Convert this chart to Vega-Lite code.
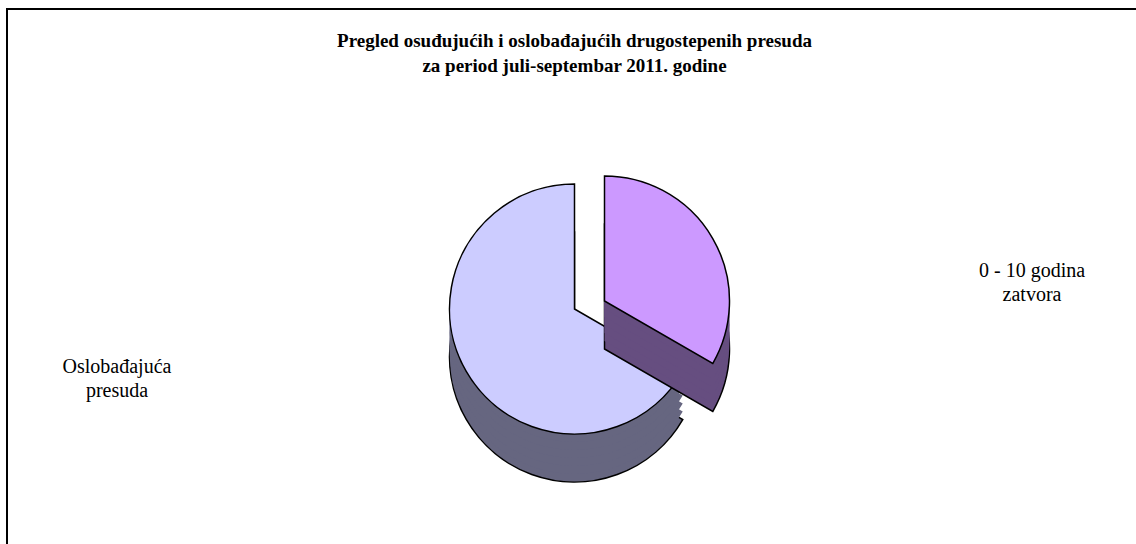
{
  "$schema": "https://vega.github.io/schema/vega-lite/v6.json",
  "width": 1135,
  "height": 600,
  "autosize": "none",
  "padding": {"left": 7, "top": 9, "right": 0, "bottom": 0},
  "background": "white",
  "view": {"stroke": "black", "strokeWidth": 2, "fill": "white"},
  "title": {
    "text": ["Pregled osuđujućih i oslobađajućih drugostepenih presuda", "za period juli-septembar 2011. godine"],
    "font": "Liberation Serif",
    "fontSize": 19,
    "fontWeight": "bold",
    "color": "black",
    "lineHeight": 25,
    "anchor": "middle",
    "offset": -67
  },
  "datasets": {
    "presude": [
      {"kategorija": "0 - 10 godina\nzatvora", "broj": 1},
      {"kategorija": "Oslobađajuća\npresuda", "broj": 2}
    ]
  },
  "data": {"name": "presude"},
  "transform": [
    {"stack": "broj", "groupby": [], "offset": "normalize", "sort": [{"field": "kategorija"}], "as": ["t0", "t1"]}
  ],
  "resolve": {"scale": {"theta": "independent"}},
  "layer": [
    {
      "transform": [{"filter": "indexof(datum.kategorija, 'Oslobađajuća') == 0"}],
      "mark": {"type": "arc", "radius": 125, "color": "#666680", "yOffset": 48, "stroke": "black", "strokeWidth": 1.5},
      "encoding": {"theta": {"field": "t0", "type": "quantitative", "scale": {"domain": [0, 1]}}, "theta2": {"field": "t1"}}
    },
    {
      "transform": [{"filter": "indexof(datum.kategorija, 'Oslobađajuća') == 0"}],
      "mark": {"type": "arc", "radius": 125, "color": "#666680", "yOffset": 40},
      "encoding": {"theta": {"field": "t0", "type": "quantitative", "scale": {"domain": [0, 1]}}, "theta2": {"field": "t1"}}
    },
    {
      "transform": [{"filter": "indexof(datum.kategorija, 'Oslobađajuća') == 0"}],
      "mark": {"type": "arc", "radius": 125, "color": "#666680", "yOffset": 32},
      "encoding": {"theta": {"field": "t0", "type": "quantitative", "scale": {"domain": [0, 1]}}, "theta2": {"field": "t1"}}
    },
    {
      "transform": [{"filter": "indexof(datum.kategorija, 'Oslobađajuća') == 0"}],
      "mark": {"type": "arc", "radius": 125, "color": "#666680", "yOffset": 24},
      "encoding": {"theta": {"field": "t0", "type": "quantitative", "scale": {"domain": [0, 1]}}, "theta2": {"field": "t1"}}
    },
    {
      "transform": [{"filter": "indexof(datum.kategorija, 'Oslobađajuća') == 0"}],
      "mark": {"type": "arc", "radius": 125, "color": "#666680", "yOffset": 16},
      "encoding": {"theta": {"field": "t0", "type": "quantitative", "scale": {"domain": [0, 1]}}, "theta2": {"field": "t1"}}
    },
    {
      "transform": [{"filter": "indexof(datum.kategorija, 'Oslobađajuća') == 0"}],
      "mark": {"type": "arc", "radius": 125, "color": "#666680", "yOffset": 8},
      "encoding": {"theta": {"field": "t0", "type": "quantitative", "scale": {"domain": [0, 1]}}, "theta2": {"field": "t1"}}
    },
    {
      "transform": [{"filter": "indexof(datum.kategorija, 'Oslobađajuća') == 0"}],
      "mark": {"type": "arc", "radius": 125, "color": "#CCCCFF", "stroke": "black", "strokeWidth": 1.5},
      "encoding": {"theta": {"field": "t0", "type": "quantitative", "scale": {"domain": [0, 1]}}, "theta2": {"field": "t1"}}
    },
    {
      "transform": [{"filter": "indexof(datum.kategorija, '0 - 10') == 0"}],
      "mark": {"type": "arc", "radius": 125, "color": "#664E80", "xOffset": 30, "yOffset": 40, "stroke": "black", "strokeWidth": 1.5},
      "encoding": {"theta": {"field": "t0", "type": "quantitative", "scale": {"domain": [0, 1]}}, "theta2": {"field": "t1"}}
    },
    {
      "transform": [{"filter": "indexof(datum.kategorija, '0 - 10') == 0"}],
      "mark": {"type": "arc", "radius": 125, "color": "#664E80", "xOffset": 30, "yOffset": 32},
      "encoding": {"theta": {"field": "t0", "type": "quantitative", "scale": {"domain": [0, 1]}}, "theta2": {"field": "t1"}}
    },
    {
      "transform": [{"filter": "indexof(datum.kategorija, '0 - 10') == 0"}],
      "mark": {"type": "arc", "radius": 125, "color": "#664E80", "xOffset": 30, "yOffset": 24},
      "encoding": {"theta": {"field": "t0", "type": "quantitative", "scale": {"domain": [0, 1]}}, "theta2": {"field": "t1"}}
    },
    {
      "transform": [{"filter": "indexof(datum.kategorija, '0 - 10') == 0"}],
      "mark": {"type": "arc", "radius": 125, "color": "#664E80", "xOffset": 30, "yOffset": 16},
      "encoding": {"theta": {"field": "t0", "type": "quantitative", "scale": {"domain": [0, 1]}}, "theta2": {"field": "t1"}}
    },
    {
      "transform": [{"filter": "indexof(datum.kategorija, '0 - 10') == 0"}],
      "mark": {"type": "arc", "radius": 125, "color": "#664E80", "xOffset": 30, "yOffset": 8},
      "encoding": {"theta": {"field": "t0", "type": "quantitative", "scale": {"domain": [0, 1]}}, "theta2": {"field": "t1"}}
    },
    {
      "transform": [{"filter": "indexof(datum.kategorija, '0 - 10') == 0"}],
      "mark": {"type": "arc", "radius": 125, "color": "#664E80", "xOffset": 30, "yOffset": 0},
      "encoding": {"theta": {"field": "t0", "type": "quantitative", "scale": {"domain": [0, 1]}}, "theta2": {"field": "t1"}}
    },
    {
      "transform": [{"filter": "indexof(datum.kategorija, '0 - 10') == 0"}],
      "mark": {"type": "arc", "radius": 125, "color": "#CC99FF", "xOffset": 30, "yOffset": -8, "stroke": "black", "strokeWidth": 1.5},
      "encoding": {"theta": {"field": "t0", "type": "quantitative", "scale": {"domain": [0, 1]}}, "theta2": {"field": "t1"}}
    },
    {
      "mark": {"type": "text", "radius": 460, "font": "Liberation Serif", "fontSize": 20, "color": "black", "lineBreak": "\n", "align": "center", "baseline": "top", "lineHeight": 24},
      "encoding": {
        "theta": {"field": "broj", "type": "quantitative", "stack": "normalize", "scale": {"domain": [0, 1], "range": [0.42, 6.703]}},
        "order": {"field": "kategorija", "sort": "ascending"},
        "detail": {"field": "kategorija"},
        "text": {"field": "kategorija"}
      }
    }
  ]
}
